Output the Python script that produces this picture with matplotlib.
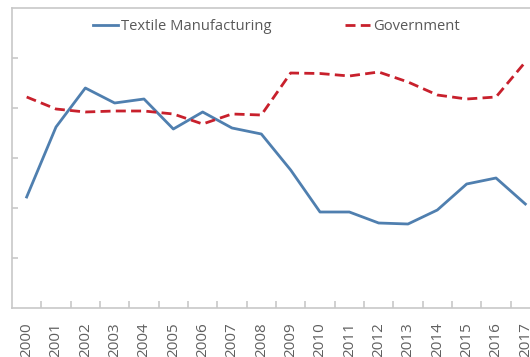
import matplotlib.pyplot as plt
from matplotlib.lines import Line2D

# Values (axis has no number labels, units 0..6)
years = [str(y) for y in range(2000, 2018)]
textile = [2.22, 3.62, 4.40, 4.10, 4.18, 3.58, 3.92, 3.60, 3.48, 2.76,
           1.92, 1.92, 1.70, 1.68, 1.96, 2.48, 2.60, 2.08]
government = [4.22, 3.98, 3.92, 3.94, 3.94, 3.88, 3.68, 3.88, 3.86, 4.70,
              4.69, 4.64, 4.72, 4.52, 4.26, 4.18, 4.22, 4.92]

plt.rcParams['font.family'] = ['Open Sans', 'DejaVu Sans']

fig = plt.figure(figsize=(5.30, 3.57), dpi=100)
W, H = 530, 357
# plot area runs past the right edge, like the cropped reference
ax = fig.add_axes([12 / W, (H - 308) / H, 528 / W, 300 / H])

blue = '#4f7faf'
red = '#c8202c'
dash = (0, (3.6, 1.9))

x = range(len(years))
ax.plot(x, textile, color=blue, lw=2.0, label='Textile Manufacturing')
ax.plot(x, government, color=red, lw=2.0, ls=dash, label='Government')

ax.set_xlim(-0.5, len(years) - 0.5)
ax.set_ylim(0, 6)

grey = '#c8c8c8'
for s in ['left', 'bottom', 'top']:
    ax.spines[s].set_color(grey)
    ax.spines[s].set_linewidth(1.2)
ax.spines['right'].set_visible(False)

ax.set_yticks([1, 2, 3, 4, 5])
ax.set_yticklabels([])
ax.tick_params(axis='y', direction='in', length=4, color=grey, width=1.2)

# category ticks sit between the years, labels centred on each year
ax.set_xticks([i + 0.5 for i in range(len(years) - 1)])
ax.set_xticklabels([])
ax.set_xticks(list(x), minor=True)
ax.set_xticklabels(years, minor=True, rotation=90, fontsize=11,
                   color='#606060', va='top')
ax.tick_params(axis='x', which='major', direction='in', length=5,
               color=grey, width=1.2)
ax.tick_params(axis='x', which='minor', length=0, pad=10.5)

handles = [Line2D([], [], color=blue, lw=2.0),
           Line2D([], [], color=red, lw=2.0, ls=dash)]
fig.legend(handles, ['Textile Manufacturing', 'Government'], ncol=2,
           loc='center', bbox_to_anchor=(276 / W, 1 - 27 / H), frameon=False,
           fontsize=10.6, labelcolor='#595959', handlelength=1.75,
           handletextpad=0.15, columnspacing=5.0)

fig.savefig('out.png', dpi=100)
